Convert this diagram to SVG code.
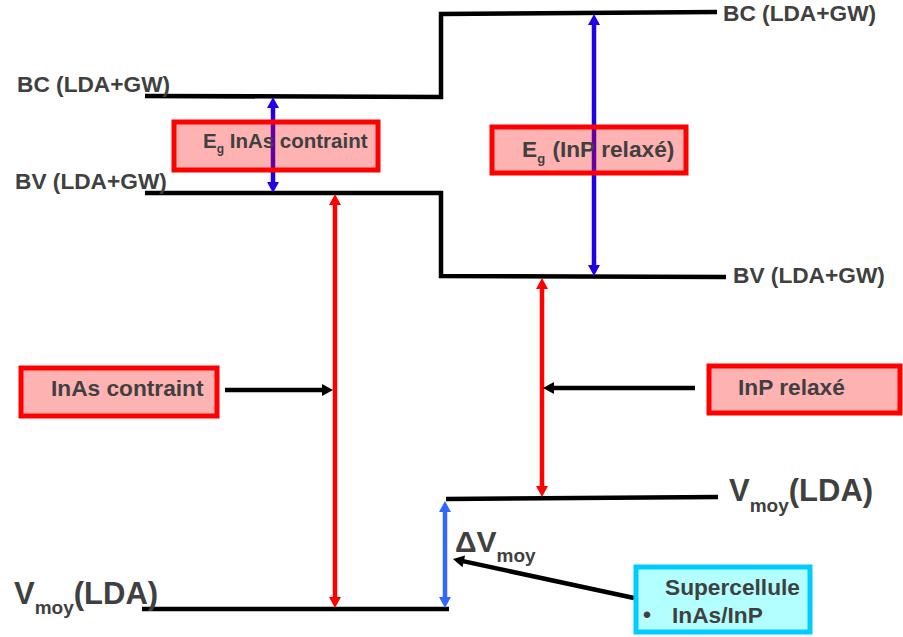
<svg xmlns="http://www.w3.org/2000/svg" width="903" height="637" viewBox="0 0 903 637">
<style>
.t{font-family:"Liberation Sans",Arial,sans-serif;font-weight:bold;fill:#404040}
.s22{font-size:22.7px}
.s20{font-size:20.5px}
.s30{font-size:31px}
.lvl{fill:none;stroke:#000;stroke-width:4.5;stroke-linejoin:miter}
.rbox{fill:#ff0000;fill-opacity:0.3;stroke:#ff0000;stroke-width:5}
.cbox{fill:#b3ffff;stroke:#00ccff;stroke-width:5}
.blue{stroke:#2200e6;stroke-width:4.5;fill:none}
.red{stroke:#ff0000;stroke-width:4.5;fill:none}
.lblue{stroke:#3366ff;stroke-width:4.5;fill:none}
.blk{stroke:#000;stroke-width:4.5;fill:none}
</style>
<defs>
<marker id="hb" markerUnits="userSpaceOnUse" markerWidth="11" markerHeight="12" refX="2" refY="6" orient="auto-start-reverse" overflow="visible"><path d="M0,0 L11,6 L0,12 z" fill="#2200e6"/></marker>
<marker id="hr" markerUnits="userSpaceOnUse" markerWidth="11" markerHeight="12" refX="2" refY="6" orient="auto-start-reverse" overflow="visible"><path d="M0,0 L11,6 L0,12 z" fill="#ff0000"/></marker>
<marker id="hl" markerUnits="userSpaceOnUse" markerWidth="11" markerHeight="12" refX="2" refY="6" orient="auto-start-reverse" overflow="visible"><path d="M0,0 L11,6 L0,12 z" fill="#3366ff"/></marker>
<marker id="hk" markerUnits="userSpaceOnUse" markerWidth="11" markerHeight="12" refX="2" refY="6" orient="auto" overflow="visible"><path d="M0,0 L11,6 L0,12 z" fill="#000"/></marker>
</defs>
<rect width="903" height="637" fill="#fff"/>

<g id="levels">
<path class="lvl" d="M145,96 L441,97 L441,14 L717,12"/>
<path class="lvl" d="M145,193 L441,193 L441,276 L726,277"/>
<path class="lvl" d="M446,499 L718,497"/>
<path class="lvl" d="M142,609 L449,609"/>
</g>

<g id="connectors">
<line class="blue" x1="273" y1="106" x2="273" y2="184" marker-start="url(#hb)" marker-end="url(#hb)"/>
<line class="blue" x1="594" y1="23" x2="594" y2="267" marker-start="url(#hb)" marker-end="url(#hb)"/>
<line class="red" x1="335" y1="203" x2="335" y2="599" marker-start="url(#hr)" marker-end="url(#hr)"/>
<line class="red" x1="542" y1="287" x2="542" y2="488" marker-start="url(#hr)" marker-end="url(#hr)"/>
<line class="lblue" x1="445" y1="510" x2="445" y2="599" marker-start="url(#hl)" marker-end="url(#hl)"/>
<line class="blk" x1="225" y1="390" x2="324" y2="390" marker-end="url(#hk)"/>
<line class="blk" x1="695" y1="388" x2="552" y2="388" marker-end="url(#hk)"/>
<line class="blk" x1="634" y1="598" x2="461.8" y2="560.9" marker-end="url(#hk)"/>
</g>

<g id="labels">
<text class="t s22" x="17" y="92">BC (LDA+GW)</text>
<text class="t s22" x="15" y="189">BV (LDA+GW)</text>
<text class="t s22" x="723" y="21">BC (LDA+GW)</text>
<text class="t s22" x="733" y="283">BV (LDA+GW)</text>
<text class="t s30" x="729" y="501">V<tspan font-size="19" dy="11">moy</tspan><tspan dy="-11">(LDA)</tspan></text>
<text class="t s30" x="14" y="604">V<tspan font-size="19" dy="10">moy</tspan><tspan dy="-10">(LDA)</tspan></text>
<text class="t" font-size="30" x="455" y="552">ΔV<tspan font-size="19" dy="10">moy</tspan></text>
</g>

<g id="node-eg-inas">
<rect class="rbox" x="174" y="122" width="204" height="48"/>
<text class="t s20" x="203" y="148">E<tspan font-size="12" dy="5">g</tspan><tspan dy="-5"> InAs contraint</tspan></text>
</g>

<g id="node-eg-inp">
<rect class="rbox" x="492" y="127" width="194" height="46"/>
<text class="t s22" x="522" y="157">E<tspan font-size="13" dy="6">g</tspan><tspan dy="-6" dx="1"> (InP relaxé)</tspan></text>
</g>

<g id="node-inas">
<rect class="rbox" x="21" y="368" width="196" height="48"/>
<text class="t s22" x="51" y="396">InAs contraint</text>
</g>

<g id="node-inp">
<rect class="rbox" x="709" y="366" width="191" height="47"/>
<text class="t s22" x="738" y="395">InP relaxé</text>
</g>

<g id="node-supercellule">
<rect class="cbox" x="636" y="567" width="174" height="65"/>
<text class="t s22" x="665" y="595">Supercellule</text>
<text class="t s22" x="643" y="622">•</text>
<text class="t s22" x="672" y="623">InAs/InP</text>
</g>
</svg>
